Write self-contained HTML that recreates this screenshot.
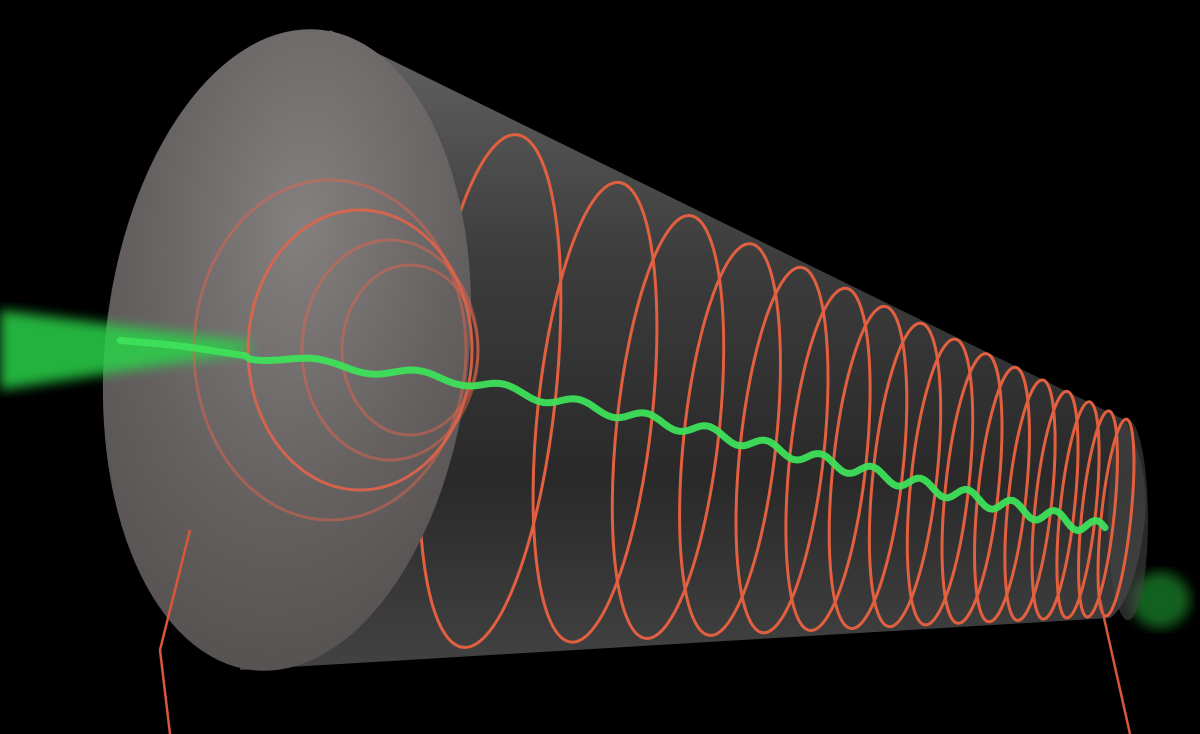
<!DOCTYPE html>
<html><head><meta charset="utf-8"><style>
html,body{margin:0;padding:0;background:#000;width:1200px;height:734px;overflow:hidden}
svg{display:block}
</style></head><body>
<svg id="scene" width="1200" height="734" viewBox="0 0 1200 734" xmlns="http://www.w3.org/2000/svg">
<defs>
<linearGradient id="bodyG" x1="0" y1="0" x2="0" y2="1">
<stop offset="0" stop-color="#6e6e6e"/><stop offset="0.35" stop-color="#444"/><stop offset="0.7" stop-color="#2e2e2e"/><stop offset="1" stop-color="#4a4a4a"/>
</linearGradient>
<radialGradient id="faceG" cx="0.5" cy="0.3" r="0.75">
<stop offset="0" stop-color="#858080"/><stop offset="0.6" stop-color="#656060"/><stop offset="1" stop-color="#555050"/>
</radialGradient>
<filter id="blur6"><feGaussianBlur stdDeviation="6"/></filter>
</defs>
<rect width="1200" height="734" fill="#000"/>
<ellipse cx="1160" cy="600" rx="30" ry="28" fill="#1e8a2e" opacity="0.7" filter="url(#blur6)"/>
<path d="M330,30 L1125,420 Q1150,470 1145,520 Q1135,600 1110,618 L240,670 Z" fill="url(#bodyG)" opacity="0.9"/>
<ellipse cx="1128" cy="520" rx="20" ry="100" fill="#444" opacity="0.6"/>
<g id="coils"></g>
<path d="M1100,600 L1130,734" stroke="#d9573a" stroke-width="2.5" fill="none"/>
<ellipse cx="287" cy="350" rx="182" ry="322" transform="rotate(6 287 350)" fill="url(#faceG)"/>
<polygon points="0,310 0,390 250,352 250,342" fill="#2bd24a" opacity="0.85" filter="url(#blur6)"/>
<g id="innerCoils"></g>
<path d="M190,530 L160,650 L170,734" stroke="#d9573a" stroke-width="2.5" fill="none"/>
<polyline id="wave" fill="none" stroke="#3ee05a" stroke-width="7" stroke-linecap="round" opacity="0.95"/>
</svg>
<script>
const coilX=[490,595,668,730,782,828,868,905,940,972,1002,1030,1055,1078,1098,1116];
const innerR=[170,140,110,85];
const innerCx=[330,360,390,410];
const wavePts=[[120,340],[460,380],[700,430],[900,480],[1105,530]];
const svgNS="http://www.w3.org/2000/svg";
const g=document.getElementById('coils');
function axisAt(x){const t=(x-287)/(1128-287);return {cy:350+t*170,ry:322-t*222,rx:150-t*125};}
coilX.forEach((x,i)=>{
 const a=axisAt(x);
 const e=document.createElementNS(svgNS,'ellipse');
 
 
 e.setAttribute('cx',x);e.setAttribute('cy',a.cy);
 e.setAttribute('rx',Math.max(14,a.rx*0.55));e.setAttribute('ry',a.ry*0.96);
 e.setAttribute('transform','rotate(6 '+x+' '+a.cy+')');
 e.setAttribute('fill','none');e.setAttribute('stroke','#e2603f');e.setAttribute('stroke-width','3');
 g.appendChild(e);
});
const ig=document.getElementById('innerCoils');
innerR.forEach((r,i)=>{
 const c=document.createElementNS(svgNS,'ellipse');
 
 
 c.setAttribute('cx',innerCx[i]);c.setAttribute('cy',350);
 c.setAttribute('rx',r*0.8);c.setAttribute('ry',r);
 c.setAttribute('fill','none');c.setAttribute('stroke','#e0644a');c.setAttribute('stroke-width','3');
 c.setAttribute('opacity',i==1?0.9:0.5);
 ig.appendChild(c);
});
let pts=[];
for(let s=0;s<wavePts.length-1;s++){
 const [x0,y0]=wavePts[s],[x1,y1]=wavePts[s+1];
 for(let k=0;k<=60;k++){
  const t=k/60;const x=x0+(x1-x0)*t;const y=y0+(y1-y0)*t;
  const f=0.015+(x/1105)*0.07;const amp=x<250?1:(3+x/250);
  pts.push(x.toFixed(1)+','+(y+amp*Math.sin(x*f)).toFixed(1));
 }
}
document.getElementById('wave').setAttribute('points',pts.join(' '));
</script>
</body></html>
